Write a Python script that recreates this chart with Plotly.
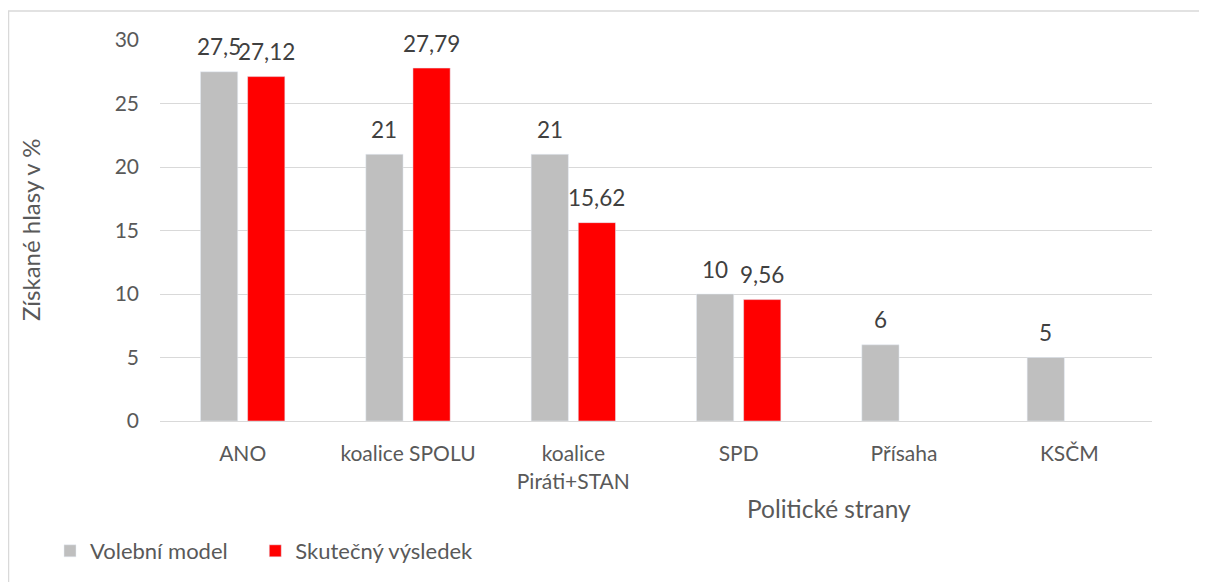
import plotly.graph_objects as go

categories = ["ANO", "koalice SPOLU", "koalice<br>Piráti+STAN", "SPD", "Přísaha", "KSČM"]
model_values = [27.5, 21, 21, 10, 6, 5]
actual_values = [27.12, 27.79, 15.62, 9.56, None, None]
series_names = ["Volební model", "Skutečný výsledek"]
series_colors = ["#BFBFBF", "#FF0000"]
y_ticks = [0, 5, 10, 15, 20, 25, 30]

def fmt(v):
    return ("%g" % v).replace(".", ",")

FONT = "Lato, Carlito, Calibri, sans-serif"
TXT = "#595959"
LBL = "#404040"

OFF = 8  # page body margin
W, H = 1207 - OFF, 582 - OFF
# plot area in page px: x 160..1152, y 40..421
L = 160 - OFF
R = W - (1152 - OFF)
T = 40 - OFF
B = H - (421 - OFF)
pw, ph = W - L - R, H - T - B

def px_x(x):
    return (x - OFF - L) / pw

def px_y(y):
    return (H - B - (y - OFF)) / ph

BARGAP = 0.43
BARGROUPGAP = 0.21
series = [model_values, actual_values]
legend_pad = ["\u00a0" * 4, ""]  # extra spacing between legend entries

fig = go.Figure()
for name, vals, col, pad in zip(series_names, series, series_colors, legend_pad):
    fig.add_trace(go.Bar(x=categories, y=vals, name=name + pad, marker_color=col,
                         hovertemplate=name + ": %{y}<extra></extra>"))

# value labels above each bar
slot = (1 - BARGAP) * pw / len(categories) / len(series)
annotations = []
for i, vals in enumerate(series):
    for cat, v in zip(categories, vals):
        if v is None:
            continue
        annotations.append(dict(
            x=cat, y=v, xref="x", yref="y", text=fmt(v), showarrow=False,
            xshift=(i - (len(series) - 1) / 2) * slot, yshift=25,
            xanchor="center", yanchor="middle",
            font=dict(size=22.5, color=LBL, family=FONT)))

annotations += [
    dict(text="Politické strany", xref="paper", yref="paper", x=px_x(829), y=px_y(509),
         showarrow=False, font=dict(size=24.5, color=TXT), xanchor="center", yanchor="middle"),
    dict(text="Získané hlasy v %", xref="paper", yref="paper", x=px_x(30), y=px_y(230),
         showarrow=False, textangle=-90, font=dict(size=24, color=TXT),
         xanchor="center", yanchor="middle"),
]

fig.update_layout(
    width=W, height=H,
    margin=dict(l=L, r=R, t=T, b=B),
    plot_bgcolor="white", paper_bgcolor="white",
    barmode="group", bargap=BARGAP, bargroupgap=BARGROUPGAP,
    font=dict(family=FONT, color=TXT, size=21),
    showlegend=True,
    legend=dict(orientation="h", xref="container", yref="container",
                x=(50 - OFF) / W, y=1 - (551 - OFF) / H, yanchor="middle", xanchor="left",
                font=dict(size=22, color=TXT), traceorder="normal"),
    xaxis=dict(showgrid=False, showline=True, linecolor="#D9D9D9", linewidth=1,
               ticks="", tickfont=dict(size=21, color=TXT), ticklabelstandoff=14),
    yaxis=dict(range=[0, 30], tickvals=y_ticks, showgrid=True, gridcolor="#D9D9D9",
               gridwidth=1, zeroline=False, ticks="", tickfont=dict(size=21, color=TXT),
               ticklabelstandoff=20),
    shapes=[
        dict(type="line", xref="paper", yref="paper", x0=px_x(8), x1=px_x(1230), y0=px_y(11), y1=px_y(11),
             line=dict(color="#D9D9D9", width=1.5)),
        dict(type="line", xref="paper", yref="paper", x0=px_x(8.5), x1=px_x(8.5), y0=px_y(11), y1=px_y(620),
             line=dict(color="#D9D9D9", width=1.5)),
    ],
    annotations=annotations,
)

fig.write_html(
    "out.html",
    config=dict(displayModeBar=False),
    post_script="document.documentElement.style.overflow='hidden';document.body.style.overflow='hidden';",
)
